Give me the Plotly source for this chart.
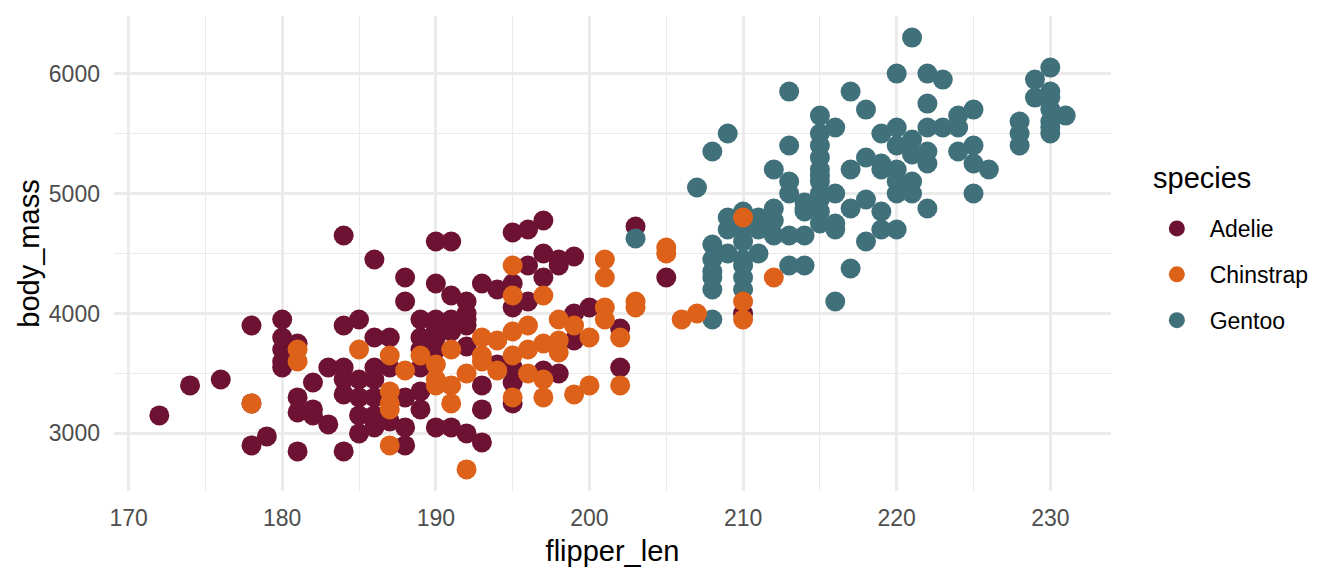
import plotly.graph_objects as go

# values (flipper length in mm, body mass in g)
adelie_flipper = [172, 174, 176, 178, 178, 178, 179,
                  180, 180, 180, 180, 180,
                  181, 181, 181, 181,
                  182, 182, 182,
                  183, 183,
                  184, 184, 184, 184, 184, 184,
                  185, 185, 185, 185, 185,
                  186, 186, 186, 186, 186, 186, 186, 186,
                  187, 187, 187,
                  188, 188, 188, 188, 188,
                  189, 189, 189, 189, 189, 189,
                  190, 190, 190, 190, 190, 190, 190, 190,
                  191, 191, 191, 191, 191,
                  192, 192, 192, 192, 192, 192,
                  193, 193, 193, 193,
                  194, 194,
                  195, 195, 195, 195, 195, 195,
                  196, 196, 196,
                  197, 197, 197, 197,
                  198, 198, 198,
                  199, 199, 199,
                  200, 202, 202, 203, 205, 210]
adelie_mass = [3150, 3400, 3450, 3900, 3250, 2900, 2975,
               3950, 3800, 3700, 3600, 3550,
               3750, 3300, 3175, 2850,
               3425, 3200, 3150,
               3550, 3075,
               4650, 3900, 3550, 3450, 3325, 2850,
               3950, 3450, 3300, 3150, 3000,
               4450, 3800, 3550, 3450, 3300, 3150, 3100, 3050,
               3800, 3550, 3100,
               4300, 4100, 3300, 3050, 2900,
               3950, 3800, 3700, 3550, 3350, 3200,
               4600, 4250, 3950, 3900, 3850, 3800, 3700, 3050,
               4600, 4150, 3950, 3850, 3050,
               4100, 4000, 3950, 3900, 3725, 3000,
               4250, 3400, 3200, 2925,
               4200, 3575,
               4675, 4250, 4050, 3550, 3425, 3250,
               4700, 4400, 4100,
               4775, 4500, 4300, 3525,
               4450, 4400, 3500,
               4475, 4000, 3775,
               4050, 3875, 3550, 4725, 4300, 4000]

gentoo_flipper = [203, 207, 208, 208, 208, 208, 208, 208, 208,
                  209, 209, 209, 209,
                  210, 210, 210, 210, 210, 210, 210,
                  211, 211, 211,
                  212, 212, 212, 212,
                  213, 213, 213, 213, 213, 213,
                  214, 214, 214, 214, 214,
                  215, 215, 215, 215, 215, 215, 215, 215, 215, 215, 215,
                  216, 216, 216, 216, 216,
                  217, 217, 217, 217,
                  218, 218, 218, 218,
                  219, 219, 219, 219, 219,
                  220, 220, 220, 220, 220, 220, 220,
                  221, 221, 221, 221, 221,
                  222, 222, 222, 222, 222, 222,
                  223, 223,
                  224, 224, 224,
                  225, 225, 225, 225,
                  226, 228, 228, 228, 229, 229,
                  230, 230, 230, 230, 230, 230, 230, 231]
gentoo_mass = [4625, 5050, 5350, 4575, 4450, 4350, 4300, 4200, 3950,
               5500, 4800, 4700, 4500,
               4850, 4700, 4600, 4450, 4400, 4300, 4200,
               4800, 4700, 4500,
               5200, 4875, 4775, 4650,
               5850, 5400, 5100, 5000, 4650, 4400,
               4925, 4875, 4850, 4650, 4400,
               5650, 5500, 5400, 5300, 5200, 5150, 5100, 5000, 4950, 4850, 4750,
               5550, 5000, 4750, 4700, 4100,
               5850, 5200, 4875, 4375,
               5700, 5300, 4950, 4600,
               5500, 5250, 5200, 4850, 4700,
               6000, 5550, 5400, 5200, 5100, 5000, 4700,
               6300, 5450, 5325, 5100, 5000,
               6000, 5750, 5550, 5350, 5250, 4875,
               5950, 5550,
               5650, 5550, 5350,
               5700, 5400, 5250, 5000,
               5200, 5600, 5500, 5400, 5950, 5800,
               6050, 5850, 5800, 5700, 5600, 5550, 5500, 5650]

chinstrap_flipper = [178, 181, 181, 185, 187, 187, 187, 187, 187,
                     188, 189, 190, 190, 190,
                     191, 191, 191, 192, 192,
                     193, 193, 193, 194, 194,
                     195, 195, 195, 195, 195,
                     196, 196, 196,
                     197, 197, 197, 197,
                     198, 198, 198, 199, 199,
                     200, 200, 201, 201, 201, 201, 202, 202,
                     203, 203, 205, 205, 206, 207, 210, 210, 210, 212]
chinstrap_mass = [3250, 3700, 3600, 3700, 3650, 3350, 3250, 3200, 2900,
                  3525, 3650, 3575, 3450, 3400,
                  3700, 3400, 3250, 3500, 2700,
                  3800, 3650, 3600, 3775, 3525,
                  4400, 4150, 3850, 3650, 3300,
                  3900, 3700, 3500,
                  4150, 3750, 3450, 3300,
                  3950, 3775, 3675, 3900, 3325,
                  3800, 3400, 4450, 4300, 4050, 3950, 3800, 3400,
                  4100, 4050, 4550, 4500, 3950, 4000, 4800, 4100, 3950, 4300]

species = ["Adelie", "Gentoo", "Chinstrap"]
colors = {"Adelie": "#6E1233", "Chinstrap": "#DD6119", "Gentoo": "#40717B"}
rank = {"Adelie": 1, "Chinstrap": 2, "Gentoo": 3}
xs = {"Adelie": adelie_flipper, "Gentoo": gentoo_flipper, "Chinstrap": chinstrap_flipper}
ys = {"Adelie": adelie_mass, "Gentoo": gentoo_mass, "Chinstrap": chinstrap_mass}

fig = go.Figure()

# drawn in data order (Chinstrap on top), legend in alphabetical order
for sp in species:
    fig.add_trace(go.Scatter(
        x=xs[sp], y=ys[sp],
        mode="markers",
        name="\u00a0\u00a0" + sp,   # a bit more room between key and label
        legendgroup=sp,
        legendrank=rank[sp],
        marker=dict(color=colors[sp], size=20, line=dict(width=0)),
    ))

grid = "#EBEBEB"
font = "Liberation Sans, Arial, Helvetica, sans-serif"

# legend title as an annotation so its gap to the keys can be set
fig.add_annotation(
    text="species", xref="paper", yref="paper",
    x=1.040, y=0.659, xanchor="left", yanchor="middle",
    showarrow=False, font=dict(size=29, color="black"),
)

# page body has an 8px margin, so the figure margins are shifted by that
fig.update_layout(
    width=1344, height=576,
    paper_bgcolor="white", plot_bgcolor="white",
    margin=dict(l=106, r=241, t=8, b=93),
    font=dict(family=font, color="black"),
    showlegend=True,
    legend=dict(
        font=dict(size=23, color="black"),
        x=1.046, xanchor="left",
        y=0.598, yanchor="top",
        tracegroupgap=13,
        bgcolor="rgba(0,0,0,0)",
    ),
    xaxis=dict(
        range=[169.05, 233.95],
        tick0=170, dtick=10,
        showgrid=True, gridcolor=grid, gridwidth=2.8,
        minor=dict(dtick=5, tick0=170, showgrid=True, gridcolor=grid, gridwidth=1.4),
        zeroline=False, showline=False, ticks="",
        automargin=False,
        ticklabelstandoff=11,
        tickfont=dict(size=23, color="#4D4D4D"),
        title=dict(text="flipper_len", font=dict(size=29, color="black"), standoff=10),
    ),
    yaxis=dict(
        range=[2520, 6480],
        tick0=3000, dtick=1000,
        showgrid=True, gridcolor=grid, gridwidth=2.8,
        minor=dict(dtick=500, tick0=3000, showgrid=True, gridcolor=grid, gridwidth=1.4),
        zeroline=False, showline=False, ticks="",
        automargin=False,
        ticklabelstandoff=13,
        tickfont=dict(size=23, color="#4D4D4D"),
        title=dict(text="body_mass", font=dict(size=29, color="black"), standoff=0),
    ),
)

fig.write_html("out.html")
